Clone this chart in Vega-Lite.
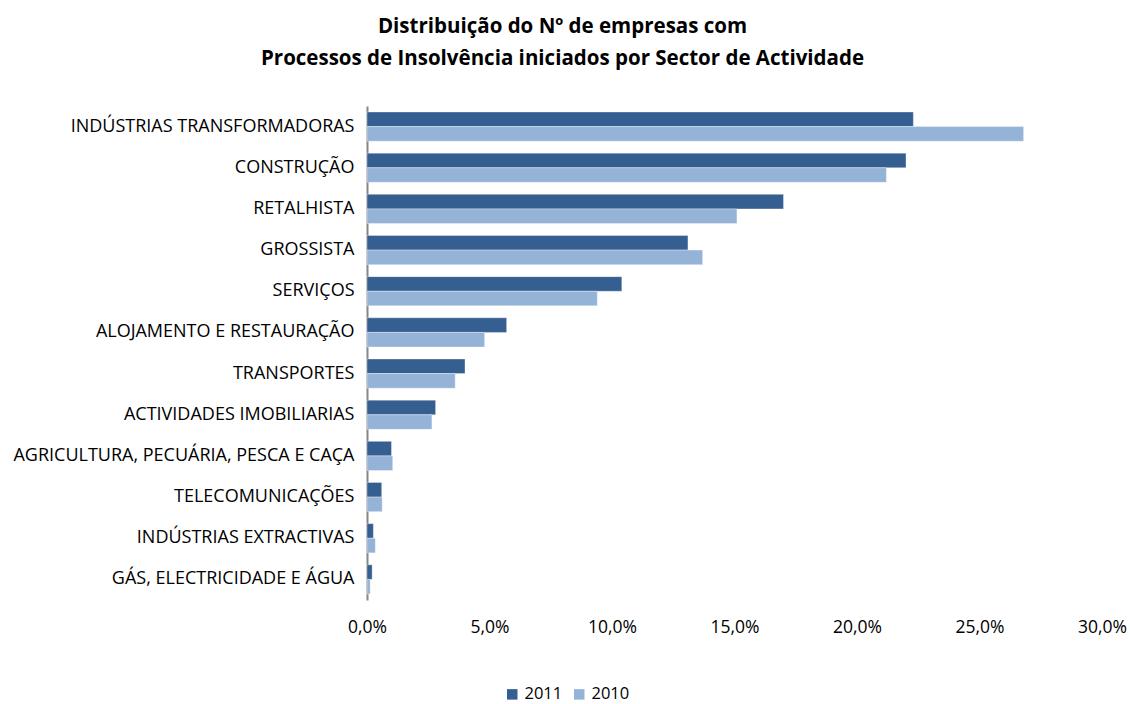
{
  "$schema": "https://vega.github.io/schema/vega-lite/v6.json",
  "width": 735,
  "height": 494,
  "autosize": {"type": "none"},
  "padding": {"left": 367, "top": 106, "right": 28, "bottom": 104},
  "background": "white",
  "title": {
    "text": ["Distribuição do Nº de empresas com", "Processos de Insolvência iniciados por Sector de Actividade"],
    "font": "Open Sans",
    "fontSize": 20.5,
    "fontWeight": "bold",
    "color": "#000000",
    "anchor": "middle",
    "dx": -172,
    "offset": 37,
    "lineHeight": 32
  },
  "data": {
    "values": [
      {"sector": "INDÚSTRIAS TRANSFORMADORAS", "ano": "2011", "valor": 0.223},
      {"sector": "INDÚSTRIAS TRANSFORMADORAS", "ano": "2010", "valor": 0.268},
      {"sector": "CONSTRUÇÃO", "ano": "2011", "valor": 0.220},
      {"sector": "CONSTRUÇÃO", "ano": "2010", "valor": 0.212},
      {"sector": "RETALHISTA", "ano": "2011", "valor": 0.170},
      {"sector": "RETALHISTA", "ano": "2010", "valor": 0.151},
      {"sector": "GROSSISTA", "ano": "2011", "valor": 0.131},
      {"sector": "GROSSISTA", "ano": "2010", "valor": 0.137},
      {"sector": "SERVIÇOS", "ano": "2011", "valor": 0.104},
      {"sector": "SERVIÇOS", "ano": "2010", "valor": 0.094},
      {"sector": "ALOJAMENTO E RESTAURAÇÃO", "ano": "2011", "valor": 0.057},
      {"sector": "ALOJAMENTO E RESTAURAÇÃO", "ano": "2010", "valor": 0.048},
      {"sector": "TRANSPORTES", "ano": "2011", "valor": 0.040},
      {"sector": "TRANSPORTES", "ano": "2010", "valor": 0.036},
      {"sector": "ACTIVIDADES IMOBILIARIAS", "ano": "2011", "valor": 0.028},
      {"sector": "ACTIVIDADES IMOBILIARIAS", "ano": "2010", "valor": 0.0265},
      {"sector": "AGRICULTURA, PECUÁRIA, PESCA E CAÇA", "ano": "2011", "valor": 0.010},
      {"sector": "AGRICULTURA, PECUÁRIA, PESCA E CAÇA", "ano": "2010", "valor": 0.0105},
      {"sector": "TELECOMUNICAÇÕES", "ano": "2011", "valor": 0.006},
      {"sector": "TELECOMUNICAÇÕES", "ano": "2010", "valor": 0.0062},
      {"sector": "INDÚSTRIAS EXTRACTIVAS", "ano": "2011", "valor": 0.0026},
      {"sector": "INDÚSTRIAS EXTRACTIVAS", "ano": "2010", "valor": 0.0034},
      {"sector": "GÁS, ELECTRICIDADE E ÁGUA", "ano": "2011", "valor": 0.0021},
      {"sector": "GÁS, ELECTRICIDADE E ÁGUA", "ano": "2010", "valor": 0.0013}
    ]
  },
  "mark": {"type": "bar", "stroke": "#ffffff", "strokeOpacity": 0.35, "strokeWidth": 1},
  "encoding": {
    "y": {
      "field": "sector",
      "type": "nominal",
      "sort": null,
      "scale": {"paddingInner": 0.29, "paddingOuter": 0.145},
      "axis": {
        "title": null,
        "ticks": false,
        "domainColor": "#868686",
        "domainWidth": 2,
        "labelFont": "Open Sans",
        "labelFontSize": 18,
        "labelColor": "#000000",
        "labelPadding": 13,
        "labelLimit": 400
      }
    },
    "yOffset": {
      "field": "ano",
      "type": "nominal",
      "scale": {"domain": ["2011", "2010"]}
    },
    "x": {
      "field": "valor",
      "type": "quantitative",
      "scale": {"domain": [0, 0.3], "nice": false},
      "axis": {
        "title": null,
        "values": [0, 0.05, 0.1, 0.15, 0.2, 0.25, 0.3],
        "labelExpr": "replace(format(datum.value, '.1%'), '.', ',')",
        "domain": false,
        "ticks": false,
        "grid": false,
        "labelFont": "Open Sans",
        "labelFontSize": 17.5,
        "labelColor": "#000000",
        "labelPadding": 18,
        "labelFlush": false
      }
    },
    "color": {
      "field": "ano",
      "type": "nominal",
      "scale": {"domain": ["2011", "2010"], "range": ["#355F91", "#95B3D7"]},
      "legend": {
        "title": null,
        "orient": "none",
        "direction": "horizontal",
        "legendX": 137,
        "legendY": 580,
        "symbolType": "square",
        "symbolSize": 110,
        "symbolStrokeWidth": 0,
        "labelFont": "Open Sans",
        "labelFontSize": 16.5,
        "labelColor": "#000000",
        "columnPadding": 8,
        "labelOffset": 4
      }
    }
  },
  "config": {
    "view": {"stroke": null}
  }
}
